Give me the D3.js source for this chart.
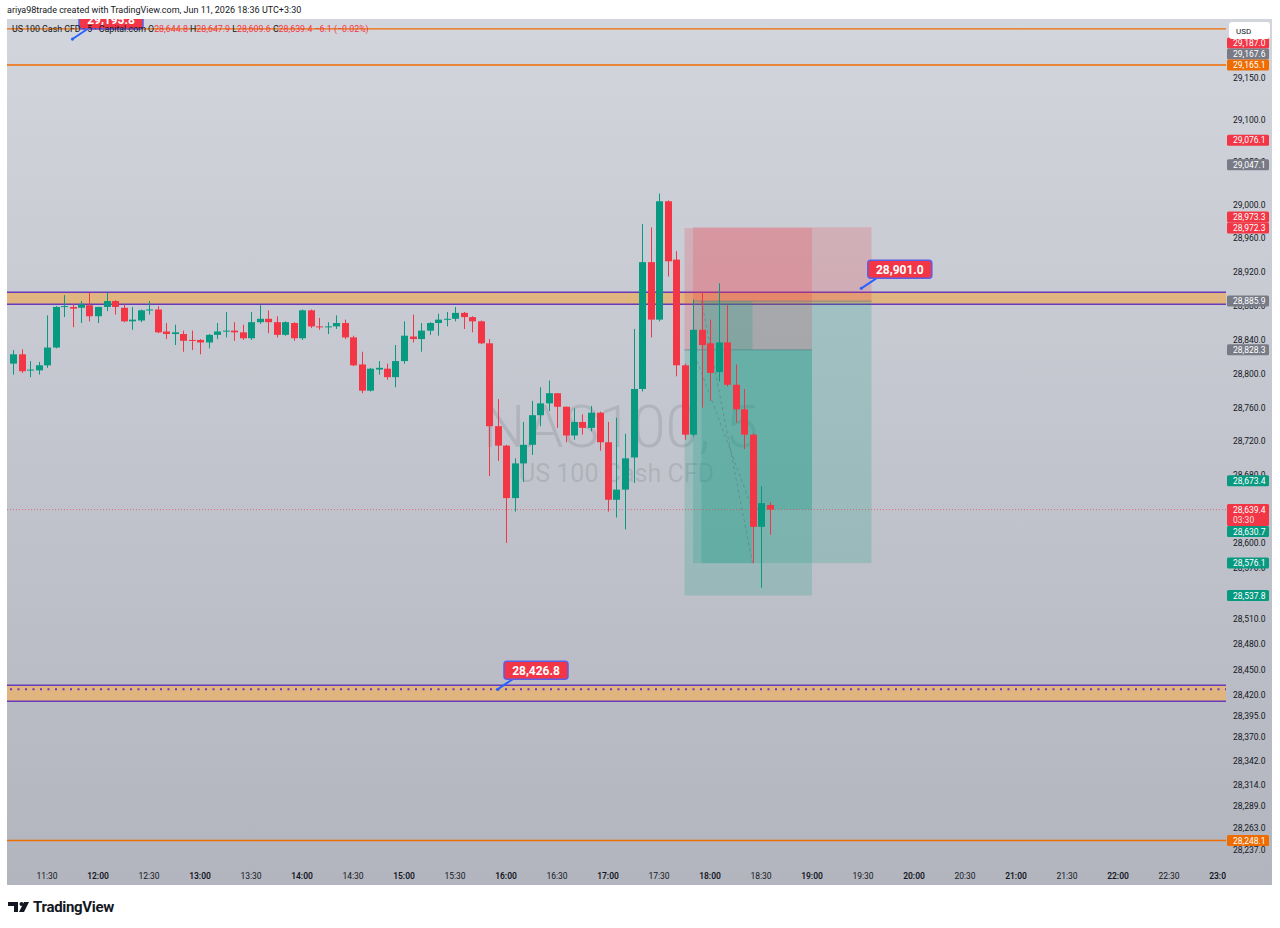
<!DOCTYPE html>
<html><head><meta charset="utf-8">
<script src="https://cdn.jsdelivr.net/npm/d3@7"></script>
<style>
html,body{margin:0;padding:0;background:#fff;}
svg{display:block;font-family:Roboto,"Noto Sans",sans-serif;}
</style></head><body>
<svg id="c" width="1280" height="928"></svg>
<script>
// ---------------- DATA ----------------
const startMinute = 670;   // 11:10, first 5-minute bar
const barMinutes = 5;
const opens  = [28812,28823,28804,28804,28810,28831,28879,28879,28878,28881,28868,28879,28886,28878,28862,28863,28875,28876,28850,28847,28847,28840,28840,28837,28846,28850,28851,28849,28842,28861,28865,28861,28846,28860,28842,28875,28856,28855,28856,28860,28843,28811,28780,28805,28806,28796,28815,28844,28841,28851,28860,28864,28865,28872,28867,28862,28836,28738,28715,28653,28694,28716,28751,28765,28777,28761,28727,28743,28736,28754,28719,28651,28663,28701,28782,28932,28864,29004,28935,28810,28728,28852,28836,28802,28837,28787,28758,28728,28619,28644.8];
const highs  = [28828,28829,28815,28814,28869,28880,28893,28882,28886,28896,28879,28896,28887,28882,28879,28876,28886,28880,28860,28858,28851,28851,28841,28847,28860,28873,28861,28858,28873,28881,28875,28868,28862,28861,28876,28876,28866,28861,28869,28864,28845,28826,28807,28815,28812,28834,28862,28870,28860,28861,28871,28873,28879,28873,28868,28863,28841,28770,28716,28700,28743,28768,28784,28792,28777,28761,28759,28752,28762,28755,28743,28748,28729,28853,28977,28973,29013,29005,28945,28812,28888,28896,28864,28907,28881,28811,28782,28729,28667,28647.9];
const lows   = [28799,28801,28796,28799,28807,28830,28867,28855,28860,28862,28860,28874,28870,28861,28852,28861,28870,28848,28841,28834,28826,28828,28823,28830,28841,28843,28839,28840,28840,28859,28848,28843,28845,28839,28840,28854,28852,28847,28853,28841,28809,28777,28779,28799,28793,28784,28812,28837,28826,28846,28845,28856,28862,28853,28849,28835,28679,28697,28600,28637,28672,28704,28738,28756,28736,28719,28722,28728,28732,28709,28637,28630,28616,28671,28779,28843,28862,28915,28797,28722,28726,28760,28768,28791,28785,28742,28711,28576,28547,28609.6];
const closes = [28823,28803,28805,28810,28831,28879,28880,28877,28882,28868,28879,28886,28879,28862,28864,28875,28876,28849,28847,28849,28839,28839,28837,28846,28850,28851,28849,28842,28861,28865,28861,28846,28861,28842,28875,28856,28855,28856,28860,28843,28810,28780,28806,28807,28796,28815,28845,28841,28851,28860,28864,28865,28872,28867,28862,28836,28738,28715,28653,28694,28716,28751,28765,28777,28761,28727,28743,28736,28754,28719,28651,28663,28700,28782,28932,28864,29004,28933,28810,28728,28852,28834,28801,28837,28787,28758,28728,28619,28647,28639.4];

const priceTicks = [29150,29100,29050,29000,28960,28920,28880,28840,28800,28760,28720,28680,28600,28570,28540,28510,28480,28450,28420,28395,28370,28342,28314,28289,28263,28237];
const timeTicks = ["11:30","12:00","12:30","13:00","13:30","14:00","14:30","15:00","15:30","16:00","16:30","17:00","17:30","18:00","18:30","19:00","19:30","20:00","20:30","21:00","21:30","22:00","22:30","23:00"];

const orangeLevels = [29207.7, 29165.1, 28248.1];
const zoneTops = [28896.3, 28431.8];
const zoneBottoms = [28882.1, 28412.9];
const dottedLevel = 28426.8;
const lastPrice = 28639.4;
const countdown = "03:30";

// short positions: [start, end] in "HH:MM", entry / stop / target
const posStart = ["17:45","17:50"];
const posEnd   = ["19:00","19:35"];
const posEntry = [28828.3, 28885.9];
const posStop  = [28972.3, 28973.3];
const posTarget= [28537.8, 28576.1];
const realStart = ["18:25","17:55"];
const realEnd   = ["19:00","18:25"];
const realFrom  = [28828.3, 28885.9];
const realTo    = [28639.4, 28576.1];
const pathStart = ["17:50","17:55"];
const pathEnd   = ["18:25","18:25"];

const calloutValues = [29195.8, 28901.0, 28426.8];
const calloutTimes  = ["11:45","19:29","15:55"];

const labelValues = [29187.0,29167.6,29165.1,29076.1,29047.1,28973.3,28972.3,28885.9,28828.3,28673.4,28639.4,28630.7,28576.1,28537.8,28248.1];
const labelKinds  = ["red","gray","orange","red","gray","red","red","gray","gray","green","current","green","green","green","orange"];

const headerText = "ariya98trade created with TradingView.com, Jun 11, 2026 18:36 UTC+3:30";
const symbolText = "US 100 Cash CFD · 5 · Capital.com";
const ohlcNames = ["O","H","L","C"];
const ohlcValues = [28644.8, 28647.9, 28609.6, 28639.4];
const changeText = "−6.1 (−0.02%)";
const watermark1 = "NAS100, 5";
const watermark2 = "US 100 Cash CFD";

// ---------------- LAYOUT ----------------
const C = {green:"#089981", red:"#f23645", orange:"#ef6c00", gray:"#787b86", purple:"#673ab7", zone:"#e0b57f", text:"#131722"};
const plot = {l:7, r:1226, t:19, b:864};
const outerR = 1272, outerB = 885;
const toMin = s => { const [h,m] = s.split(":").map(Number); return h*60+m; };

const x = d3.scaleLinear().domain([720,1080]).range([98,710]);
const y = d3.scaleLinear().domain([28248.1,29165.1]).range([840.5,65]);
const fmt = d3.format(",.1f");

const svg = d3.select("#c");
const defs = svg.append("defs");
const g1 = defs.append("linearGradient").attr("id","bg").attr("x1",0).attr("y1",0).attr("x2",0).attr("y2",1);
g1.append("stop").attr("offset","0%").attr("stop-color","#d2d5dc");
g1.append("stop").attr("offset","100%").attr("stop-color","#b2b5be");
defs.append("clipPath").attr("id","plotClip").append("rect").attr("x",plot.l).attr("y",plot.t).attr("width",plot.r-plot.l).attr("height",plot.b-plot.t);
defs.append("clipPath").attr("id","timeClip").append("rect").attr("x",plot.l).attr("y",plot.b).attr("width",plot.r-plot.l).attr("height",outerB-plot.b);
defs.append("clipPath").attr("id","allClip").append("rect").attr("x",plot.l).attr("y",plot.t).attr("width",outerR-plot.l).attr("height",outerB-plot.t);

svg.append("rect").attr("x",plot.l).attr("y",plot.t).attr("width",outerR-plot.l).attr("height",outerB-plot.t).attr("fill","url(#bg)");

const P = svg.append("g").attr("clip-path","url(#plotClip)");

// watermark
const cx = (plot.l+plot.r)/2;
P.append("text").attr("x",cx+4).attr("y",447).attr("text-anchor","middle").attr("font-size",60).attr("font-weight",300)
  .attr("fill","rgba(120,123,134,0.25)").text(watermark1);
P.append("text").attr("x",cx).attr("y",482).attr("text-anchor","middle").attr("font-size",25).attr("font-weight",400)
  .attr("fill","rgba(120,123,134,0.25)").text(watermark2);

// zones
zoneTops.forEach((top,i)=>{
  P.append("rect").attr("x",plot.l).attr("width",plot.r-plot.l).attr("y",y(top)).attr("height",y(zoneBottoms[i])-y(top)).attr("fill",C.zone);
  [top, zoneBottoms[i]].forEach(v=>P.append("line").attr("x1",plot.l).attr("x2",plot.r).attr("y1",y(v)).attr("y2",y(v)).attr("stroke",C.purple).attr("stroke-width",1.5));
});
P.append("line").attr("x1",plot.l+3).attr("x2",plot.r).attr("y1",y(dottedLevel)).attr("y2",y(dottedLevel))
  .attr("stroke",C.purple).attr("stroke-width",2).attr("stroke-dasharray","2,5.5");

// orange lines
orangeLevels.forEach(v=>P.append("line").attr("x1",plot.l).attr("x2",plot.r).attr("y1",y(v)).attr("y2",y(v)).attr("stroke",C.orange).attr("stroke-width",1.3));

// positions
posStart.forEach((s,i)=>{
  const x0 = x(toMin(s)), x1 = x(toMin(posEnd[i]));
  P.append("rect").attr("x",x0).attr("width",x1-x0).attr("y",y(posStop[i])).attr("height",y(posEntry[i])-y(posStop[i])).attr("fill","rgba(242,54,69,0.2)");
  P.append("rect").attr("x",x0).attr("width",x1-x0).attr("y",y(posEntry[i])).attr("height",y(posTarget[i])-y(posEntry[i])).attr("fill","rgba(8,153,129,0.2)");
  P.append("line").attr("x1",x0).attr("x2",x1).attr("y1",y(posEntry[i])).attr("y2",y(posEntry[i])).attr("stroke","rgba(120,123,134,0.7)").attr("stroke-width",1);
});
realStart.forEach((s,i)=>{
  const x0 = x(toMin(s)), x1 = x(toMin(realEnd[i]));
  P.append("rect").attr("x",x0).attr("width",x1-x0).attr("y",y(realFrom[i])).attr("height",y(realTo[i])-y(realFrom[i])).attr("fill","rgba(8,153,129,0.22)");
  P.append("line").attr("x1",x(toMin(pathStart[i]))).attr("x2",x(toMin(pathEnd[i]))).attr("y1",y(posEntry[i])).attr("y2",y(realTo[i]))
    .attr("stroke","rgba(100,103,114,0.45)").attr("stroke-dasharray","3,3");
});

// current price line
P.append("line").attr("x1",plot.l).attr("x2",plot.r).attr("y1",y(lastPrice)).attr("y2",y(lastPrice))
  .attr("stroke",C.red).attr("stroke-opacity",0.6).attr("stroke-dasharray","1,2");

// candles
const bars = opens.map((o,i)=>({t:startMinute+i*barMinutes,o,h:highs[i],l:lows[i],c:closes[i]}));
const cg = P.append("g");
bars.forEach(b=>{
  const col = b.c>=b.o ? C.green : C.red;
  const xc = Math.round(x(b.t))+0.5;
  cg.append("line").attr("x1",xc).attr("x2",xc).attr("y1",y(b.h)).attr("y2",y(b.l)).attr("stroke",col).attr("stroke-width",1);
  const yt = y(Math.max(b.o,b.c)), yb = y(Math.min(b.o,b.c));
  cg.append("rect").attr("x",xc-3.5).attr("width",7).attr("y",yt).attr("height",Math.max(1,yb-yt)).attr("fill",col);
});

// callouts
calloutValues.forEach((v,i)=>{
  const ax = x(toMin(calloutTimes[i])), ay = y(v);
  const bx = ax+6.5, bb = ay-10, bw = 64, bh = 18;
  P.append("line").attr("x1",ax).attr("y1",ay).attr("x2",ax+15).attr("y2",bb).attr("stroke","#2962ff").attr("stroke-width",2);
  P.append("circle").attr("cx",ax).attr("cy",ay).attr("r",1.6).attr("fill","#2962ff");
  P.append("rect").attr("x",bx).attr("y",bb-bh).attr("width",bw).attr("height",bh).attr("rx",3)
    .attr("fill",C.red).attr("stroke","#5b5fe8").attr("stroke-width",1.5);
  P.append("text").attr("x",bx+bw/2).attr("y",bb-bh/2+4.2).attr("text-anchor","middle").attr("font-size",12).attr("font-weight",700)
    .attr("fill","#fff").text(fmt(v));
});

// legend
const lg = svg.append("text").attr("x",12).attr("y",32).attr("font-size",8.8).attr("fill",C.text);
lg.append("tspan").text(symbolText+"  ");
ohlcNames.forEach((n,i)=>{
  lg.append("tspan").text(n);
  lg.append("tspan").attr("fill",C.red).text(fmt(ohlcValues[i])+"  ");
});
lg.append("tspan").attr("fill",C.red).text(changeText);

// header
svg.append("text").attr("x",7).attr("y",13).attr("font-size",9).attr("fill",C.text).text(headerText);

// price axis ticks
const AX = svg.append("g").attr("clip-path","url(#allClip)");
priceTicks.forEach(v=>{
  AX.append("text").attr("x",1233).attr("y",y(v)+3).attr("font-size",8.5).attr("fill",C.text).text(fmt(v));
});

// price labels with collision avoidance
const labels = labelValues.map((v,i)=>({v,kind:labelKinds[i],y:y(v),pinned:labelKinds[i]==="current"||labelKinds[i]==="orange"}));
const pins = labels.filter(l=>l.pinned);
labels.filter(l=>!l.pinned).forEach(l=>{
  pins.forEach(p=>{
    const pTop = p.y-5.5, pBot = p.y+(p.kind==="current"?16.5:5.5);
    if(l.y+5.5>pTop && l.y-5.5<pBot){ l.y = l.y<p.y ? pTop-5.5 : pBot+5.5; }
  });
});
const np = labels.filter(l=>!l.pinned).sort((a,b)=>a.y-b.y);
for(let i=np.length-2;i>=0;i--){ if(np[i+1].y-np[i].y<11) np[i].y = np[i+1].y-11; }
const colorOf = k => k==="current"?C.red:C[k];
labels.forEach(l=>{
  const h = l.kind==="current"?22:11;
  AX.append("rect").attr("x",1227).attr("y",l.y-5.5).attr("width",42).attr("height",h).attr("rx",1.5).attr("fill",colorOf(l.kind));
  AX.append("text").attr("x",1233).attr("y",l.y+3).attr("font-size",8.5).attr("fill","#fff").text(fmt(l.v));
  if(l.kind==="current") AX.append("text").attr("x",1233).attr("y",l.y+13.5).attr("font-size",8.5).attr("fill","#fff").attr("fill-opacity",0.85).text(countdown);
});

// USD box
svg.append("rect").attr("x",1229).attr("y",22).attr("width",41).attr("height",17).attr("rx",3).attr("fill","#fff");
svg.append("text").attr("x",1236).attr("y",33.5).attr("font-size",8).attr("fill",C.text).text("USD");

// time axis
const TX = svg.append("g").attr("clip-path","url(#timeClip)");
timeTicks.forEach(s=>{
  const m = toMin(s);
  TX.append("text").attr("x",x(m)).attr("y",879).attr("text-anchor","middle").attr("font-size",8.5)
    .attr("font-weight", s.endsWith(":00")?600:400).attr("fill",C.text).text(s);
});

// footer logo
const fl = svg.append("g").attr("fill",C.text);
fl.append("path").attr("d","M8 902 h10 v10 h-4 v-6 h-6 z");
fl.append("circle").attr("cx",21.5).attr("cy",904).attr("r",2);
fl.append("path").attr("d","M24 902 h5 l-5 10 h-5 z");
svg.append("text").attr("x",33).attr("y",912).attr("font-size",15).attr("font-weight",700).attr("letter-spacing",-0.3).attr("fill",C.text).text("TradingView");
</script>
</body></html>
